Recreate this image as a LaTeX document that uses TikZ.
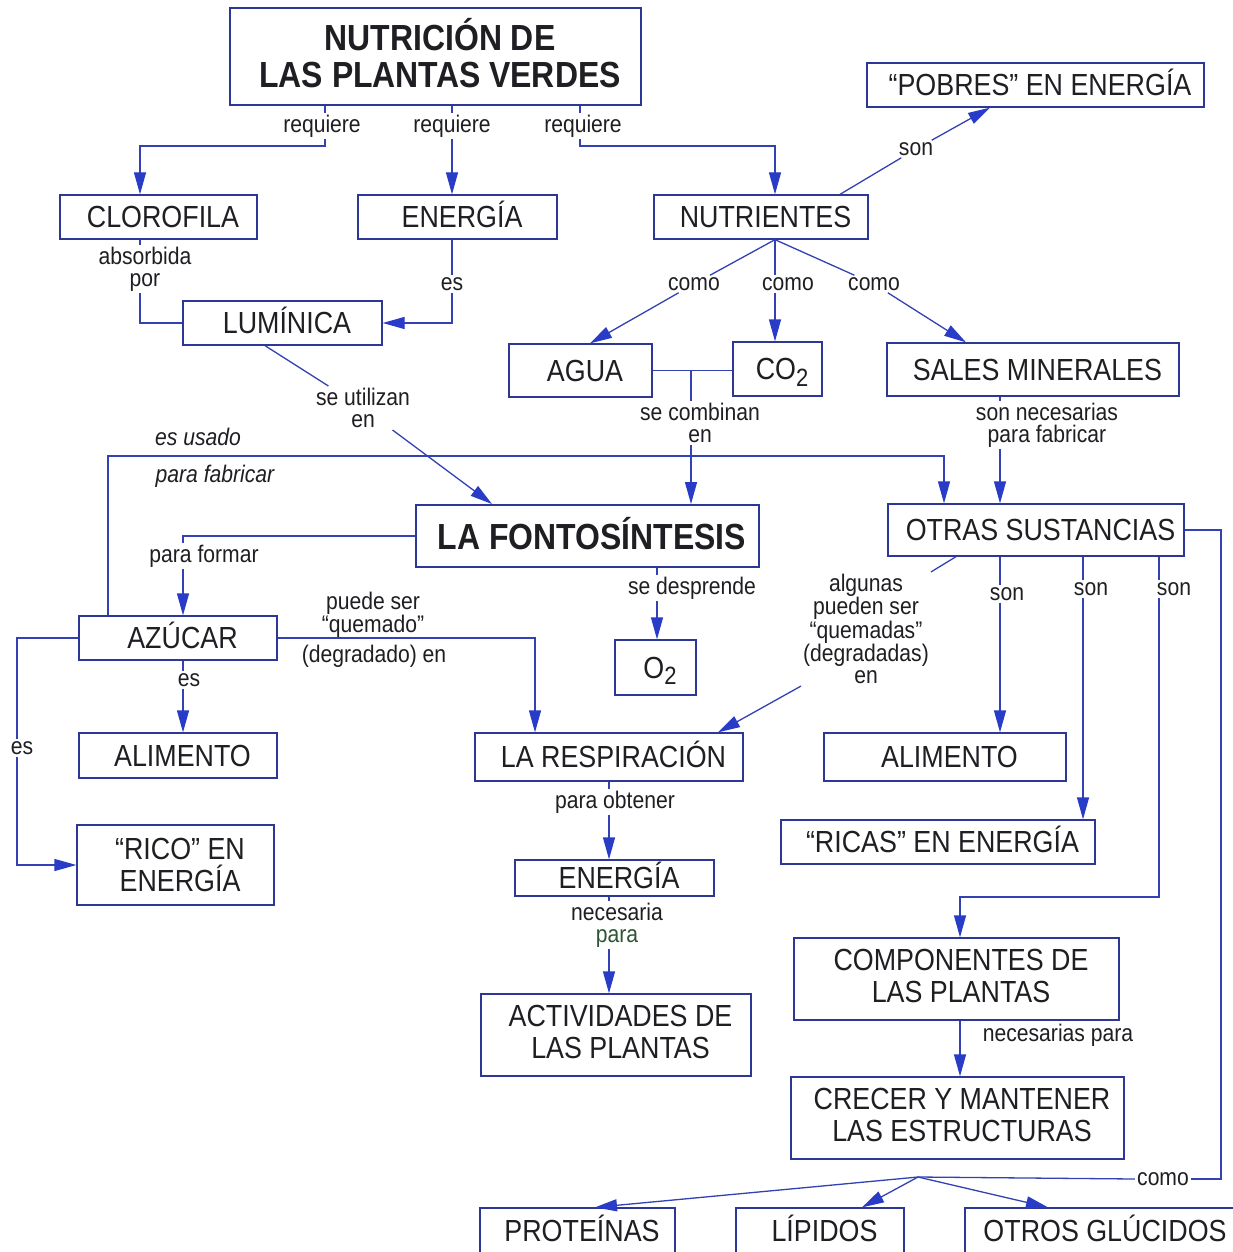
\documentclass[tikz,border=0pt]{standalone}
\usepackage{fontspec}
\setmainfont{Liberation Sans}[FakeStretch=0.88]
\usetikzlibrary{arrows.meta}

\definecolor{boxc}{RGB}{45,55,150}
\definecolor{linec}{RGB}{50,65,180}
\definecolor{tipc}{RGB}{40,60,200}
\definecolor{txt}{RGB}{30,30,35}
\definecolor{paragreen}{RGB}{45,85,50}

\newcommand\boxfont{\fontsize{30.5}{32}\selectfont}
\newcommand\lblfont{\fontsize{24}{22}\selectfont}
\newcommand\ttlfont{\fontsize{36.3}{37}\selectfont\bfseries}
\newcommand\subtwo{\raisebox{-0.4ex}{\fontsize{25}{25}\selectfont 2}}
% box captions sit slightly right of the box centre
\newcommand\sh{\hspace*{9pt}}

\tikzset{
  box/.style={draw=boxc, line width=1.3pt, inner sep=0pt, font=\boxfont, text=txt, align=center},
  one/.style={text height=21.5pt, text depth=0pt},
  two/.style={text depth=6pt},
  big/.style={box, line width=2pt, font=\ttlfont},
  onebig/.style={text height=26pt, text depth=0pt},
  lbl/.style={font=\lblfont, text=txt, inner sep=2pt, align=center},
  ilbl/.style={lbl, font=\lblfont\itshape},
  ln/.style={draw=linec, line width=1.3pt},
  arr/.style={ln, -{Triangle[length=22pt,width=12pt,color=tipc]}}
}

\begin{document}
\begin{tikzpicture}[x=1pt,y=-1pt]
\fill[white] (0,0) rectangle (1233,1252);
\useasboundingbox (0,0) rectangle (1233,1252);

% ---------- concept boxes ----------
\node[big, text depth=8pt, minimum width=411, minimum height=97] (title) at (435.5,56.5) {\sh NUTRICIÓN DE\\\sh LAS PLANTAS VERDES};
\node[box, one, minimum width=197, minimum height=44] (clorofila) at (158.5,217) {\sh CLOROFILA};
\node[box, one, minimum width=199, minimum height=44] (energia1) at (457.5,217) {\sh ENERGÍA};
\node[box, one, minimum width=214, minimum height=44] (nutrientes) at (761,217) {\sh NUTRIENTES};
\node[box, one, minimum width=337, minimum height=44] (pobres) at (1035.5,85) {\sh “POBRES” EN ENERGÍA};
\node[box, one, minimum width=199, minimum height=44] (luminica) at (282.5,323) {\sh LUMÍNICA};
\node[box, one, minimum width=143, minimum height=53] (agua) at (580.5,370.5) {\sh AGUA};
\node[box, one, minimum width=89, minimum height=54] (co2) at (777.5,369) {\sh CO\subtwo};
\node[box, one, minimum width=292, minimum height=53] (sales) at (1033,369.5) {\sh SALES MINERALES};
\node[big, onebig, minimum width=343, minimum height=62] (foto) at (587.5,536) {\sh LA FONTOSÍNTESIS};
\node[box, one, minimum width=296, minimum height=52] (otras) at (1036,530) {\sh OTRAS SUSTANCIAS};
\node[box, one, minimum width=198, minimum height=44] (azucar) at (178,638) {\sh AZÚCAR};
\node[box, one, minimum width=81, minimum height=55] (o2) at (655.5,667.5) {\sh O\subtwo};
\node[box, one, minimum width=198, minimum height=45] (alim1) at (178,755.5) {\sh ALIMENTO};
\node[box, one, minimum width=268, minimum height=48] (resp) at (609,757) {\sh LA RESPIRACIÓN};
\node[box, one, minimum width=242, minimum height=48] (alim2) at (945,757) {\sh ALIMENTO};
\node[box, minimum width=197, minimum height=80] (rico) at (175.5,865) {\sh “RICO” EN\\\sh ENERGÍA};
\node[box, one, minimum width=314, minimum height=44] (ricas) at (938,842) {\sh “RICAS” EN ENERGÍA};
\node[box, one, minimum width=199, minimum height=36] (energia2) at (614.5,878) {\sh ENERGÍA};
\node[box, two, minimum width=325, minimum height=82] (componentes) at (956.5,979) {\sh COMPONENTES DE\\\sh LAS PLANTAS};
\node[box, two, minimum width=270, minimum height=82] (actividades) at (616,1035) {\sh ACTIVIDADES DE\\\sh LAS PLANTAS};
\node[box, two, minimum width=333, minimum height=82] (crecer) at (957.5,1118) {\sh CRECER Y MANTENER\\\sh LAS ESTRUCTURAS};
\node[box, one, minimum width=195, minimum height=46] (proteinas) at (577.5,1231) {\sh PROTEÍNAS};
\node[box, one, minimum width=168, minimum height=46] (lipidos) at (820,1231) {\sh LÍPIDOS};
\node[box, one, minimum width=280, minimum height=46] (otros) at (1105,1231) {OTROS GLÚCIDOS};

% ---------- linking words ----------
\node[lbl] (rq1) at (322,126) {requiere};
\node[lbl] (rq2) at (452,126) {requiere};
\node[lbl] (rq3) at (583,126) {requiere};
\node[lbl] (son0) at (916,149) {son};
\node[lbl] (abs) at (145,269) {absorbida\\por};
\node[lbl] (es1) at (452,284) {es};
\node[lbl] (util) at (363,408) {se utilizan\\en};
\node[lbl] (como1) at (694,284) {como};
\node[lbl] (como2) at (788,284) {como};
\node[lbl] (como3) at (874,284) {como};
\node[lbl] (comb) at (700,423) {se combinan\\en};
\node[lbl] (nec) at (1047,425) {son necesarias\\para fabricar};
\node[ilbl] (usado) at (198,437) {es usado};
\node[ilbl] (fabr) at (215,476) {para fabricar};
\node[lbl] (forma) at (204,556) {para formar};
\node[lbl] (desp) at (692,588) {se desprende};
\node[lbl] (quem) at (373,615) {puede ser\\“quemado”};
\node[lbl] (degr) at (374,656) {(degradado) en};
\node[lbl] (es2) at (189,680) {es};
\node[lbl] (es3) at (22,748) {es};
\node[lbl] (alg) at (866,629) {algunas\\pueden ser\\“quemadas”\\(degradadas)\\en};
\node[lbl] (son1) at (1007,594) {son};
\node[lbl] (son2) at (1091,589) {son};
\node[lbl] (son3) at (1174,589) {son};
\node[lbl] (obt) at (615,802) {para obtener};
\node[lbl] (necp) at (617,925) {necesaria\\{\color{paragreen}para}};
\node[lbl] (necs) at (1058,1035) {necesarias para};
\node[lbl] (como4) at (1163,1179) {como};

% ---------- connectors ----------
% requiere (x3)
\draw[ln] (title.south -| 325,0) -- (rq1.north -| 325,0);
\draw[arr] (rq1.south -| 325,0) -- (325,146) -| (clorofila.north -| 140,0);
\draw[ln] (title.south -| 452,0) -- (rq2.north -| 452,0);
\draw[arr] (rq2.south -| 452,0) -- (energia1.north -| 452,0);
\draw[ln] (title.south -| 580,0) -- (rq3.north -| 580,0);
\draw[arr] (rq3.south -| 580,0) -- (580,146) -| (nutrientes.north -| 775,0);

% nutrientes son pobres
\draw[ln] (nutrientes.north -| 840,0) -- (son0);
\draw[arr] (son0) -- (pobres.south -| 990,0);

% clorofila / energia -> luminica
\draw[ln] (clorofila.south -| 140,0) -- (abs.north -| 140,0);
\draw[ln] (abs.south -| 140,0) |- (luminica.west);
\draw[ln] (energia1.south -| 452,0) -- (es1.north -| 452,0);
\draw[arr] (es1.south -| 452,0) |- (luminica.east);

% luminica -> fotosintesis
\draw[ln] (luminica.south -| 265,0) -- (util);
\draw[arr] (util) -- (foto.north -| 492,0);

% nutrientes como ...
\coordinate (napex) at (nutrientes.south -| 775,0);
\draw[ln] (napex) -- (como1);
\draw[arr] (como1) -- (agua.north -| 590,0);
\draw[ln] (napex) -- (como2.north -| napex);
\draw[arr] (como2.south -| napex) -- (co2.north -| napex);
\draw[ln] (napex) -- (como3);
\draw[arr] (como3) -- (sales.north -| 966,0);

% agua + co2 se combinan en fotosintesis
\draw[ln] (agua.east) -- (agua.east -| co2.west);
\coordinate (jn) at (agua.east -| 691,0);
\draw[ln] (jn) -- (comb.north -| jn);
\draw[arr] (comb.south -| jn) -- (foto.north -| jn);

% sales -> otras
\draw[ln] (sales.south -| 1000,0) -- (nec.north -| 1000,0);
\draw[arr] (nec.south -| 1000,0) -- (otras.north -| 1000,0);

% azucar es usado para fabricar otras
\draw[arr] (azucar.north -| 108,0) -- (108,456) -| (otras.north -| 944,0);

% fotosintesis para formar azucar
\draw[ln] (foto.west) -| (forma.north -| 183,0);
\draw[arr] (forma.south -| 183,0) -- (azucar.north -| 183,0);

% fotosintesis se desprende o2
\draw[ln] (foto.south -| 657,0) -- (desp.north -| 657,0);
\draw[arr] (desp.south -| 657,0) -- (o2.north -| 657,0);

% azucar -> respiracion, alimento, rico
\draw[arr] (azucar.east) -| (resp.north -| 535,0);
\draw[ln] (azucar.south -| 183,0) -- (es2.north -| 183,0);
\draw[arr] (es2.south -| 183,0) -- (alim1.north -| 183,0);
\draw[ln] (azucar.west) -| (es3.north -| 17,0);
\draw[arr] (es3.south -| 17,0) |- (rico.west);

% otras -> respiracion
\draw[ln] (otras.south -| 956,0) -- (alg.north east);
\draw[arr] (alg.south west) -- (resp.north -| 718,0);

% otras son ...
\draw[ln] (otras.south -| 1000,0) -- (son1.north -| 1000,0);
\draw[arr] (son1.south -| 1000,0) -- (alim2.north -| 1000,0);
\draw[ln] (otras.south -| 1083,0) -- (son2.north -| 1083,0);
\draw[arr] (son2.south -| 1083,0) -- (ricas.north -| 1083,0);
\draw[ln] (otras.south -| 1159,0) -- (son3.north -| 1159,0);
\draw[arr] (son3.south -| 1159,0) -- (1159,897) -| (componentes.north -| 960,0);

% otras como proteinas, lipidos, otros glucidos
\draw[ln] (otras.east) -- (otras.east -| 1221,0) |- (como4.east);
\coordinate (capex) at (918,1177);
\draw[ln] (como4.west) -- (capex);
\draw[arr] (capex) -- (proteinas.north -| 595,0);
\draw[arr] (capex) -- (lipidos.north -| 862,0);
\draw[arr] (capex) -- (otros.north -| 1048,0);

% respiracion -> energia -> actividades
\draw[ln] (resp.south -| 609,0) -- (obt.north -| 609,0);
\draw[arr] (obt.south -| 609,0) -- (energia2.north -| 609,0);
\draw[ln] (energia2.south -| 609,0) -- (necp.north -| 609,0);
\draw[arr] (necp.south -| 609,0) -- (actividades.north -| 609,0);

% componentes -> crecer
\draw[arr] (componentes.south -| 960,0) -- (crecer.north -| 960,0);
\end{tikzpicture}
\end{document}
